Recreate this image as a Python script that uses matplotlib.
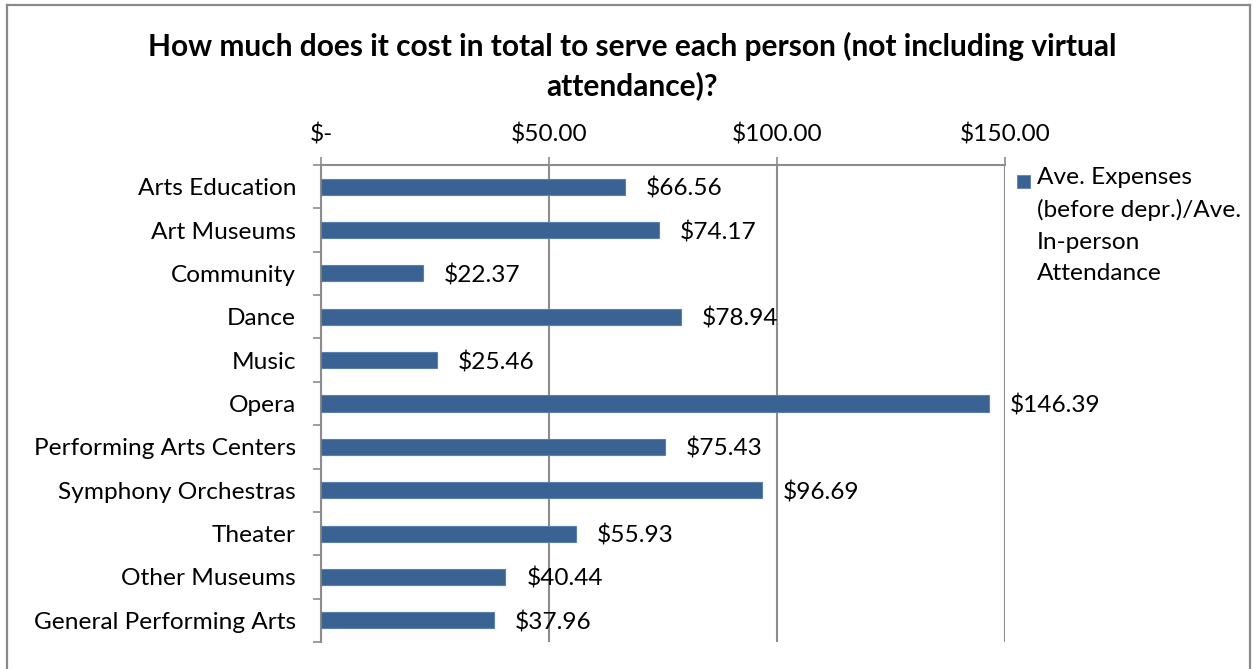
import matplotlib
matplotlib.use("Agg")
import matplotlib.pyplot as plt
from matplotlib.lines import Line2D
from matplotlib.patches import Rectangle
import numpy as np

categories = [
    "Arts Education", "Art Museums", "Community", "Dance", "Music", "Opera",
    "Performing Arts Centers", "Symphony Orchestras", "Theater",
    "Other Museums", "General Performing Arts",
]
values = [66.56, 74.17, 22.37, 78.94, 25.46, 146.39, 75.43, 96.69, 55.93, 40.44, 37.96]
x_ticks = [0, 50, 100, 150]
x_tick_labels = ["$-", "$50.00", "$100.00", "$150.00"]
series_name = "Ave. Expenses\n(before depr.)/Ave.\nIn-person\nAttendance"
title = "How much does it cost in total to serve each person (not including virtual\nattendance)?"

W, H = 1253, 669
DPI = 100
PX = 72 / DPI  # points per pixel

plt.rcParams["font.family"] = ["Lato", "DejaVu Sans"]

BAR = "#3A6293"
EDGE = "#5A80B0"
GRID = "#8C8C8C"
FS = 17.6

fig = plt.figure(figsize=(W / DPI, H / DPI), dpi=DPI)
fig.patch.set_facecolor("white")

left, right, top, bottom = 321, 1005, 165, 642
ax = fig.add_axes([left / W, (H - bottom) / H, (right - left) / W, (bottom - top) / H])

y = np.arange(len(categories))
ax.barh(y, values, height=0.37, color=BAR, edgecolor=EDGE, linewidth=0.8, zorder=3)

ax.set_xlim(0, 150)
ax.set_ylim(len(categories) - 0.5, -0.5)

# value labels just beyond bar ends
for yi, v in zip(y, values):
    ax.annotate(f"${v:.2f}", xy=(v, yi), xytext=(21 * PX, -2 * PX), textcoords="offset points",
                ha="left", va="center", fontsize=FS, color="black", zorder=4)

# x axis on top
ax.xaxis.tick_top()
ax.set_xticks(x_ticks)
ax.set_xticklabels(x_tick_labels, fontsize=FS)
ax.tick_params(axis="x", which="major", direction="out", length=8 * PX, width=1.2,
               color=GRID, pad=8)
ax.xaxis.grid(True, color=GRID, linewidth=1.5, zorder=1)

# categories with tick marks at their boundaries
ax.set_yticks(y)
ax.set_yticklabels(categories, fontsize=FS)
ax.set_yticks(np.arange(len(categories) + 1) - 0.5, minor=True)
ax.tick_params(axis="y", which="major", length=0, pad=25 * PX)
ax.tick_params(axis="y", which="minor", direction="out", length=8 * PX, width=1.2, color=GRID)

for s in ["bottom", "right"]:
    ax.spines[s].set_visible(False)
for s in ["top", "left"]:
    ax.spines[s].set_color(GRID)
    ax.spines[s].set_linewidth(1.5)

fig.text(632 / W, 1 - 66 / H, title, ha="center", va="center", fontsize=21.5,
         fontweight="bold", linespacing=1.45)

# legend
fig.patches.append(Rectangle((1017 / W, 1 - 188 / H), 13 / W, 13 / H,
                             transform=fig.transFigure, facecolor=BAR, edgecolor=EDGE,
                             linewidth=0.6))
fig.text(1037 / W, 1 - 167 / H, series_name, ha="left", va="top", fontsize=FS,
         linespacing=1.62)

# chart frame
for xs, ys in [([7, 7], [5, H]), ([7, 1250], [5, 5]), ([1250, 1250], [5, H])]:
    fig.add_artist(Line2D([v / W for v in xs], [1 - v / H for v in ys],
                          transform=fig.transFigure, color="#8A8A8A", linewidth=1.6))

fig.savefig("out.png", dpi=DPI)
